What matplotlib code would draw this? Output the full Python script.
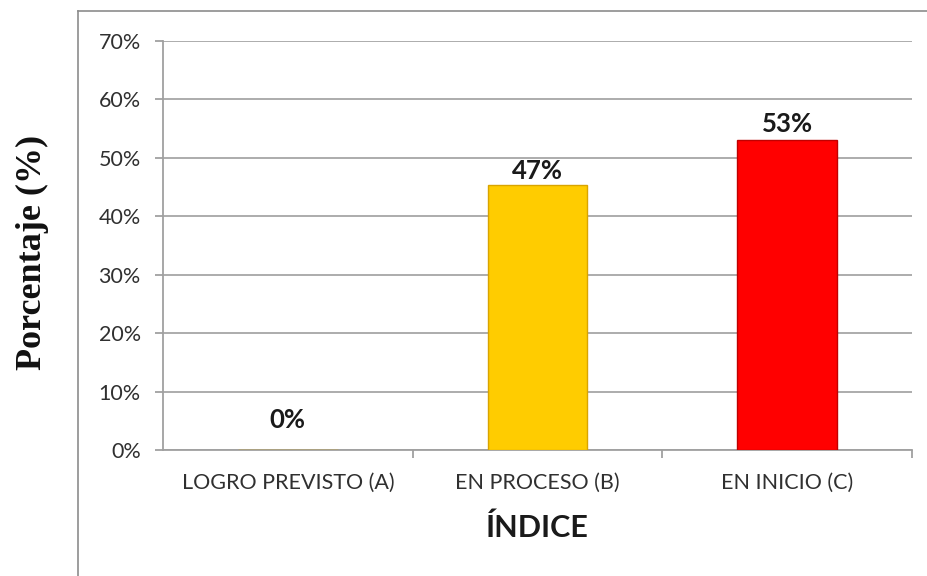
import matplotlib
matplotlib.use("Agg")
import matplotlib.pyplot as plt
from matplotlib.lines import Line2D

categories = ["LOGRO PREVISTO (A)", "EN PROCESO (B)", "EN INICIO (C)"]
values = [0, 45.3, 53]
value_labels = ["0%", "47%", "53%"]
bar_colors = ["#FFCC00", "#FFCC00", "#FF0000"]
edge_colors = ["#D9A400", "#D9A400", "#C00000"]
yticks = [0, 10, 20, 30, 40, 50, 60, 70]
ytick_labels = ["0%", "10%", "20%", "30%", "40%", "50%", "60%", "70%"]

W, H = 928, 576
fig = plt.figure(figsize=(W / 100, H / 100), dpi=100)
fig.patch.set_facecolor("white")

# chart border (top and left edges visible)
bx, by = 78 / W, 1 - 11 / H
fig.add_artist(Line2D([bx, 1.0], [by, by], transform=fig.transFigure,
                      color="#8c8c8c", linewidth=1.2))
fig.add_artist(Line2D([bx, bx], [0.0, by], transform=fig.transFigure,
                      color="#8c8c8c", linewidth=1.2))

ax = fig.add_axes([163 / W, 1 - 450 / H, (912 - 163) / W, (450 - 41) / H])
x = list(range(len(categories)))
ax.bar(x, values, width=0.4, color=bar_colors, edgecolor=edge_colors, linewidth=1.0, zorder=3)

ax.set_xlim(-0.5, 2.5)
ax.set_ylim(0, 70)
ax.set_yticks(yticks)
ax.set_yticklabels(ytick_labels)
ax.set_xticks(x)
ax.set_xticklabels(categories)
ax.set_xticks([0.5, 1.5, 2.5], minor=True)

ax.grid(axis="y", color="#a6a6a6", linewidth=1.3, zorder=0)
ax.set_axisbelow(True)
for s in ["top", "right"]:
    ax.spines[s].set_visible(False)
for s in ["left", "bottom"]:
    ax.spines[s].set_color("#a0a0a0")
    ax.spines[s].set_linewidth(1.3)

ax.tick_params(axis="y", length=6, width=1.3, color="#a0a0a0", labelsize=15.5,
               labelcolor="#303030", pad=10)
ax.tick_params(axis="x", which="major", length=0, labelsize=15.5, labelcolor="#303030", pad=16.5)
ax.tick_params(axis="x", which="minor", length=6, width=1.3, color="#a0a0a0")
for lab in ax.get_yticklabels() + ax.get_xticklabels():
    lab.set_family("Lato")

offsets = [21.5, 10, 12]
for xi, v, lab, off in zip(x, values, value_labels, offsets):
    ax.annotate(lab, (xi, v), xytext=(0, off), textcoords="offset points",
                ha="center", va="center", fontsize=18.5, fontweight="bold",
                family="Lato", color="#1a1a1a")

ax.set_xlabel("ÍNDICE", fontsize=22, fontweight="bold", family="Lato", color="#1a1a1a",
              va="center")
ax.xaxis.set_label_coords(0.5, -(528 - 450) / (450 - 41))
fig.text(32 / W, 1 - 252 / H, "Porcentaje (%)", rotation=90, ha="center", va="center",
         fontsize=26, fontweight="bold", family="Liberation Serif", color="#111111")

fig.savefig("out.png", dpi=100)
